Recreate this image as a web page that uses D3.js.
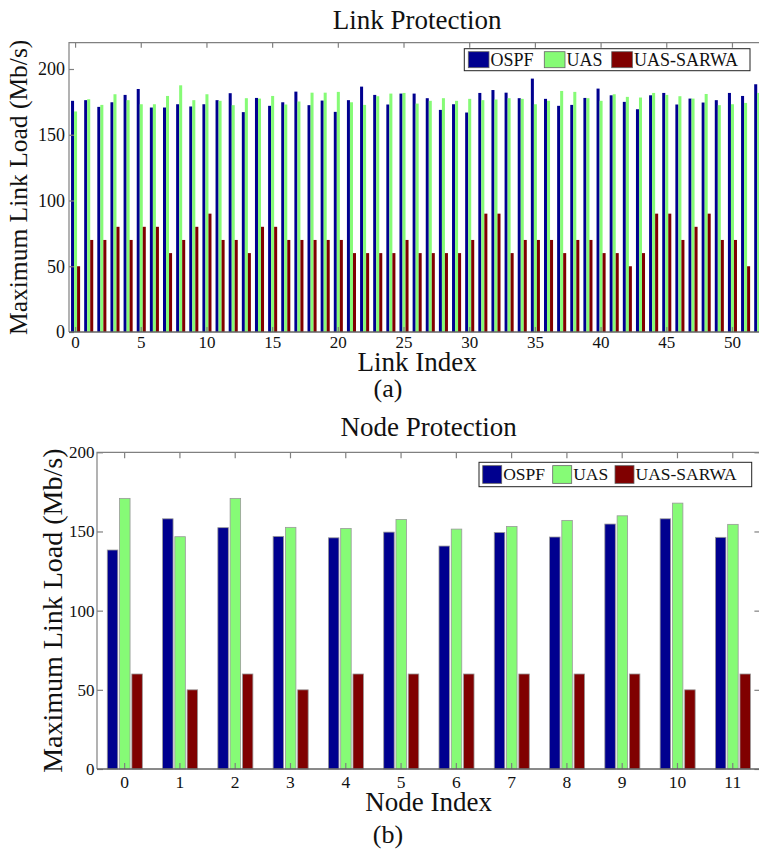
<!DOCTYPE html>
<html>
<head>
<meta charset="utf-8">
<script src="https://cdn.jsdelivr.net/npm/d3@7"></script>
<style>
  body { margin: 0; background: #fff; }
  svg { display: block; overflow: hidden; font-family: "Liberation Serif", "Times New Roman", serif; }
</style>
</head>
<body>
<svg id="chart" width="759" height="852"></svg>
<script>
// Series names and colours (MATLAB jet style)
const seriesNames = ["OSPF", "UAS", "UAS-SARWA"];
const seriesColors = ["#00008F", "#86FB76", "#800000"];

// (a) Link protection, link index 0..52
const linkIndex = d3.range(0, 53);
const ospfLink = [175.8, 176.3, 171.2, 174.7, 180.3, 184.8, 170.7, 170.7, 173.2, 171.5, 173.2, 176.3, 181.6,
  167.2, 178, 172, 174.7, 182.8, 172.5, 176, 167.4, 176.3, 186.6, 180.3, 173, 181.3,
  181.3, 177.8, 168.9, 173.2, 166.9, 181.8, 184, 182, 177.8, 192.7, 177.3, 172, 172.7,
  178, 185.1, 180, 175, 169.4, 180, 181.8, 173, 177.5, 174.5, 176.3, 181.8, 179.5, 188.4];
const uasLink = [167.7, 177, 172.7, 180.8, 176.3, 173.2, 173.2, 179.5, 187.6, 176.3, 180.8, 175.8, 172.5,
  177.8, 177.5, 179.5, 173, 175.3, 182, 182, 182.6, 174.7, 172.7, 179.3, 181.3, 181.8,
  173.7, 175.8, 177.8, 175.8, 177.3, 176.3, 176.8, 177.8, 177.3, 173.2, 175.8, 183.3, 182.6,
  177.8, 175.8, 180.8, 178.8, 178.3, 181.8, 180.3, 179.3, 177.5, 181, 172.5, 173.2, 174.2, 181.8];
const sarwaLink = [50, 70, 70, 80, 70, 80, 80, 60, 70, 80, 90, 70, 70,
  60, 80, 80, 70, 70, 70, 70, 70, 60, 60, 60, 60, 70,
  60, 60, 60, 60, 70, 90, 90, 60, 70, 70, 70, 60, 70,
  70, 60, 60, 50, 60, 90, 90, 70, 80, 90, 70, 70, 50, 60];
const linkXTicks = [0, 5, 10, 15, 20, 25, 30, 35, 40, 45, 50];
const linkYTicks = [0, 50, 100, 150, 200];

// (b) Node protection, node index 0..11
const nodeIndex = d3.range(0, 12);
const ospfNode = [138.3, 158, 152.4, 146.9, 146, 149.6, 140.8, 149.4, 146.5, 154.7, 158, 146.3];
const uasNode = [170.9, 146.7, 170.9, 152.6, 151.9, 157.6, 151.5, 153.2, 157, 159.9, 167.9, 154.5];
const sarwaNode = [60, 50, 60, 50, 60, 60, 60, 60, 60, 60, 50, 60];
const nodeYTicks = [0, 50, 100, 150, 200];

const svg = d3.select("#chart");
svg.append("rect").attr("width", 759).attr("height", 852).attr("fill", "#fff");

function drawPanel(opt) {
  const g = svg.append("g");
  const { left, right, top, bottom } = opt.box;

  const x = d3.scaleBand().domain(opt.cats).range([left, right]);
  const sub = d3.scaleBand().domain(seriesNames)
    .range([opt.sub[0] * x.step(), opt.sub[1] * x.step()])
    .paddingInner(opt.subPad);
  const y = d3.scaleLinear().domain(opt.yDomain).range([bottom, top]);

  // bars
  opt.series.forEach((vals, j) => {
    g.append("g").selectAll("rect")
      .data(vals)
      .join("rect")
      .attr("x", (d, i) => x(opt.cats[i]) + sub(seriesNames[j]))
      .attr("width", sub.bandwidth())
      .attr("y", d => y(d))
      .attr("height", d => y(0) - y(d))
      .attr("fill", seriesColors[j])
      .attr("stroke", opt.barStroke || "none")
      .attr("stroke-width", 0.8);
  });

  const axisColor = "#808080";

  // box (left, top, right) and bottom line
  g.append("path")
    .attr("d", `M${left},${bottom}V${top}H${right}V${bottom}H${left}`)
    .attr("fill", "none").attr("stroke", axisColor).attr("stroke-width", 1.2);

  // x ticks: bottom (pointing up) and top (pointing down)
  const xAxisB = d3.axisBottom(x).tickValues(opt.xTicks).tickSizeInner(-opt.tick).tickSizeOuter(0).tickPadding(opt.xPad);
  const gxb = g.append("g").attr("transform", `translate(0,${bottom})`).call(xAxisB);
  const xAxisT = d3.axisTop(x).tickValues(opt.xTicks).tickSizeInner(-opt.tick).tickSizeOuter(0).tickFormat("");
  const gxt = g.append("g").attr("transform", `translate(0,${top})`).call(xAxisT);

  // y ticks: left and right (pointing inward)
  const yAxisL = d3.axisLeft(y).tickValues(opt.yTicks).tickSizeInner(-opt.tick).tickSizeOuter(0).tickPadding(opt.yPad);
  const gyl = g.append("g").attr("transform", `translate(${left},0)`).call(yAxisL);
  const yAxisR = d3.axisRight(y).tickValues(opt.yTicks).tickSizeInner(-opt.tick).tickSizeOuter(0).tickFormat("");
  const gyr = g.append("g").attr("transform", `translate(${right},0)`).call(yAxisR);

  [gxb, gxt, gyl, gyr].forEach(a => {
    a.select(".domain").remove();
    a.selectAll("line").attr("stroke", axisColor).attr("stroke-width", 1.2);
    a.selectAll("text").attr("fill", "#111").style("font-family", "Liberation Serif, serif");
  });
  gxb.selectAll("text").style("font-size", opt.xTickFont + "px");
  gyl.selectAll("text").style("font-size", opt.yTickFont + "px");

  // zero line drawn over bar bottoms
  g.append("line").attr("x1", left).attr("x2", right).attr("y1", bottom).attr("y2", bottom)
    .attr("stroke", "#555").attr("stroke-width", 1);

  // title and axis labels
  const mid = (left + right) / 2;
  g.append("text").attr("x", mid).attr("y", opt.titleY).attr("text-anchor", "middle")
    .style("font-size", "27px").attr("fill", "#111").text(opt.title);
  g.append("text").attr("x", mid).attr("y", opt.xLabelY).attr("text-anchor", "middle")
    .style("font-size", "27px").attr("fill", "#111").text(opt.xLabel);
  g.append("text")
    .attr("transform", `translate(${opt.yLabelX},${(top + bottom) / 2}) rotate(-90)`)
    .attr("text-anchor", "middle")
    .style("font-size", opt.yLabelFont + "px").attr("fill", "#111")
    .text("Maximum Link Load (Mb/s)");
  g.append("text").attr("x", 388).attr("y", opt.captionY).attr("text-anchor", "middle")
    .style("font-size", "26px").attr("fill", "#111").text(opt.caption);

  // legend
  const L = opt.legend;
  const lg = g.append("g");
  lg.append("rect").attr("x", L.x).attr("y", L.y).attr("width", L.w).attr("height", L.h)
    .attr("fill", "#fff").attr("stroke", "#222").attr("stroke-width", 1);
  seriesNames.forEach((name, j) => {
    lg.append("rect").attr("x", L.items[j]).attr("y", L.y + (L.h - L.sw[1]) / 2)
      .attr("width", L.sw[0]).attr("height", L.sw[1])
      .attr("fill", seriesColors[j]).attr("stroke", "#666").attr("stroke-width", 0.8);
    lg.append("text").attr("x", L.items[j] + L.sw[0] + 1.5).attr("y", L.y + L.h / 2 + L.font * 0.34)
      .style("font-size", L.font + "px").attr("fill", "#111").text(name);
  });
}

drawPanel({
  cats: linkIndex,
  series: [ospfLink, uasLink, sarwaLink],
  box: { left: 69, right: 765.3, top: 42.7, bottom: 332 },
  sub: [0.155, 0.845], subPad: 0,
  yDomain: [0, 220], yTicks: linkYTicks, xTicks: linkXTicks,
  tick: 5, xPad: 3.5, yPad: 4, xTickFont: 17, yTickFont: 18,
  title: "Link Protection", titleY: 28.5,
  xLabel: "Link Index", xLabelY: 370.5,
  yLabelX: 27, yLabelFont: 25.5,
  caption: "(a)", captionY: 397,
  legend: { x: 464.3, y: 48.7, w: 285.7, h: 22, sw: [20.7, 16], items: [468.3, 544.3, 611.7], font: 18 }
});

drawPanel({
  cats: nodeIndex,
  series: [ospfNode, uasNode, sarwaNode],
  box: { left: 97, right: 760.4, top: 452.3, bottom: 769 },
  sub: [0.186, 0.82], subPad: 0.144, barStroke: "#999",
  yDomain: [0, 200], yTicks: nodeYTicks, xTicks: nodeIndex,
  tick: 6, xPad: 6.5, yPad: 2.5, xTickFont: 17.5, yTickFont: 17,
  title: "Node Protection", titleY: 435.7,
  xLabel: "Node Index", xLabelY: 810.5,
  yLabelX: 61.5, yLabelFont: 28,
  caption: "(b)", captionY: 843,
  legend: { x: 479, y: 462.3, w: 272.7, h: 24.4, sw: [19, 17.7], items: [482.7, 552.7, 615], font: 17.5 }
});
</script>
</body>
</html>
